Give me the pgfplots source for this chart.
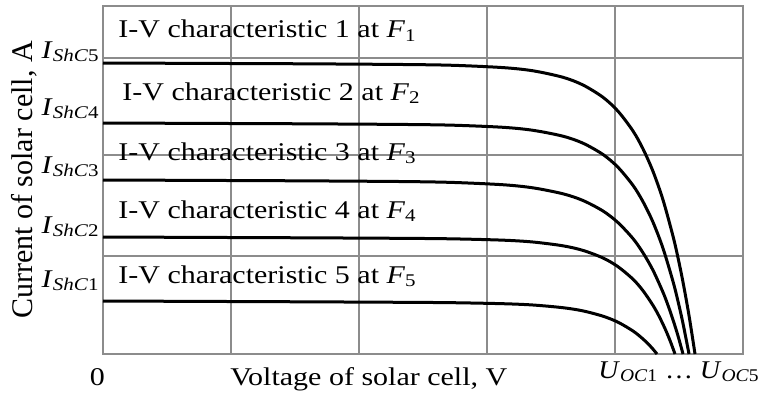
\documentclass[border=0pt]{standalone}
\usepackage{fontspec}
\setmainfont{Liberation Serif}
\usepackage{pgfplots}
\pgfplotsset{compat=1.18}
\newcommand{\sq}[1]{\scalebox{1}[0.85]{#1}}
\begin{document}
\begin{tikzpicture}[font=\fontsize{15}{18}\selectfont]
\useasboundingbox (-51.5pt,-19pt) rectangle (327.5pt,177pt);
\begin{axis}[
  scale only axis, width=320pt, height=174pt,
  xmin=0, xmax=640, ymin=0, ymax=348,
  xtick={128,256,384,512}, ytick={98,199,296},
  xticklabels={}, yticklabels={},
  major tick length=0pt,
  grid=major,
  major grid style={draw=black!45, line width=0.7pt},
  axis line style={draw=black!45, line width=0.7pt},
  clip=false,
]
% curve 1 (F1)
\addplot[black, line width=1.5pt, smooth, tension=0.5] coordinates {
(0,291.0) (100,290.6) (200,290.2) (300,289.5) (350,288.7) (400,286.4) (430,283.2) (460,276.7) (480,269.0) (500,256.7) (515,242.8) (530,223.0) (540,205.1) (550,182.6) (560,154.1) (570,117.8) (575,96.2) (580,71.8) (586,38.5) (592,0)};
% curve 2
\addplot[black, line width=1.5pt, smooth, tension=0.5] coordinates {
(0,231.0) (100,230.6) (200,230.2) (300,229.55) (350,228.8) (400,226.7) (430,223.7) (460,217.8) (480,210.8) (500,199.5) (515,186.7) (530,168.6) (540,152.3) (550,131.8) (560,105.7) (570,72.5) (575,52.7) (580,30.5) (586,0)};
% curve 3
\addplot[black, line width=1.5pt, smooth, tension=0.5] coordinates {
(0,174.0) (100,173.6) (200,173.16) (300,172.46) (350,171.56) (400,169.26) (430,166.16) (460,160.2) (480,153.5) (500,143.0) (515,131.4) (530,115.4) (540,101.2) (550,83.7) (560,61.7) (565,48.7) (570,34.2) (575,18.1) (580,0)};
% curve 4
\addplot[black, line width=1.5pt, smooth, tension=0.5] coordinates {
(0,117.0) (100,116.6) (200,116.2) (300,115.67) (350,115.15) (400,113.84) (430,111.99) (460,108.19) (480,103.58) (500,96.04) (515,87.3) (530,74.8) (540,63.3) (550,48.6) (556,37.9) (562,25.4) (567,13.5) (572,0)};
% curve 5
\addplot[black, line width=1.5pt, smooth, tension=0.5] coordinates {
(0,53.0) (100,52.6) (200,52.2) (300,51.7) (350,51.3) (400,50.3) (430,49.0) (460,46.3) (480,43.1) (500,37.8) (515,31.8) (530,23.0) (540,15.0) (548,7.1) (554,0)};

% annotations
\node[anchor=base west, inner sep=0] at (axis cs:15,316) {\sq{I-V characteristic 1 at \textit{F}\textsubscript{1}}};
\node[anchor=base west, inner sep=0] at (axis cs:19,254) {\sq{I-V characteristic 2 at \textit{F}\textsubscript{2}}};
\node[anchor=base west, inner sep=0] at (axis cs:15,194) {\sq{I-V characteristic 3 at \textit{F}\textsubscript{3}}};
\node[anchor=base west, inner sep=0] at (axis cs:15,136) {\sq{I-V characteristic 4 at \textit{F}\textsubscript{4}}};
\node[anchor=base west, inner sep=0] at (axis cs:15,71) {\sq{I-V characteristic 5 at \textit{F}\textsubscript{5}}};

% y tick labels
\node[anchor=base east, inner sep=0] at (axis cs:-3,296) {\sq{\textit{I}\textsubscript{\textit{ShC}5}}};
\node[anchor=base east, inner sep=0] at (axis cs:-3,239) {\sq{\textit{I}\textsubscript{\textit{ShC}4}}};
\node[anchor=base east, inner sep=0] at (axis cs:-3,181) {\sq{\textit{I}\textsubscript{\textit{ShC}3}}};
\node[anchor=base east, inner sep=0] at (axis cs:-3,121) {\sq{\textit{I}\textsubscript{\textit{ShC}2}}};
\node[anchor=base east, inner sep=0] at (axis cs:-3,67) {\sq{\textit{I}\textsubscript{\textit{ShC}1}}};

% x labels
\node[anchor=base, inner sep=0] at (axis cs:-5.5,-31) {\sq{0}};
\node[anchor=base west, inner sep=0] at (axis cs:127,-31) {\sq{Voltage of solar cell, V}};
\node[anchor=base west, inner sep=0] at (axis cs:495,-24) {\scalebox{0.93}[0.85]{\textit{U}\textsubscript{\textit{OC}1} … \textit{U}\textsubscript{\textit{OC}5}}};

% y label
\node[anchor=base, rotate=90, inner sep=0] at (axis cs:-70,174) {Current of solar cell, A};
\end{axis}
\end{tikzpicture}
\end{document}
